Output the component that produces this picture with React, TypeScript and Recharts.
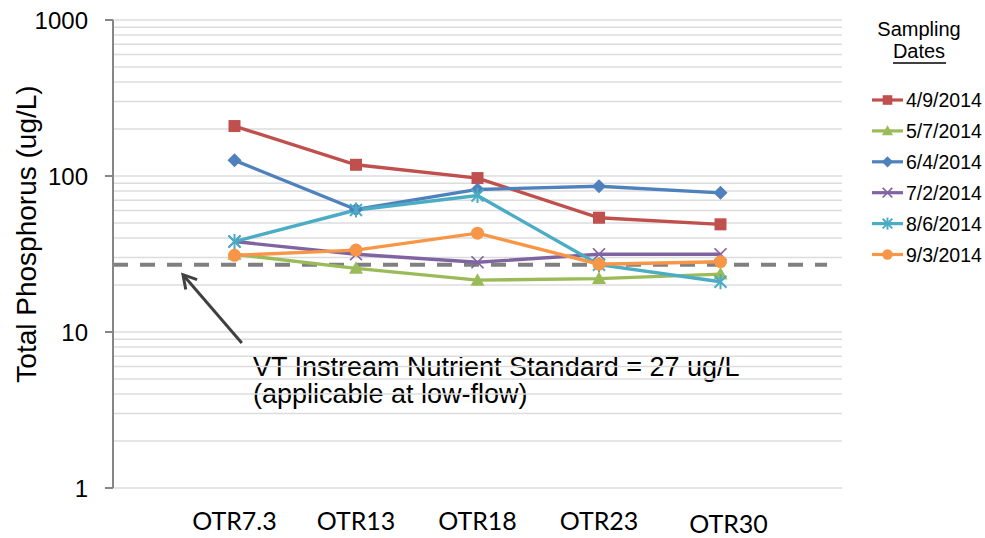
import React from 'react';
import { LineChart, Line, XAxis, YAxis, ReferenceLine, Customized } from 'recharts';

// ---- data ----
const sites = ['OTR7.3', 'OTR13', 'OTR18', 'OTR23', 'OTR30'];
const dates = ['4/9/2014', '5/7/2014', '6/4/2014', '7/2/2014', '8/6/2014', '9/3/2014'];
const tp0409 = [209, 118, 97, 54, 49];
const tp0507 = [31.5, 25.6, 21.5, 22, 23.5];
const tp0604 = [126, 61, 82, 86, 78];
const tp0702 = [38, 31.5, 28, 31.5, 31.5];
const tp0806 = [38, 60.5, 75, 27, 21];
const tp0903 = [31, 33.5, 43, 27.2, 28.2];
const yTicks = [1, 10, 100, 1000];
const gridValues = [
  1, 2, 3, 4, 5, 6, 7, 8, 9, 10, 20, 30, 40, 50, 60, 70, 80, 90,
  100, 200, 300, 400, 500, 600, 700, 800, 900, 1000,
];
const standardValue = 27;
const annotationLines = ['VT Instream Nutrient Standard = 27 ug/L', '(applicable at low-flow)'];
const legendTitle = ['Sampling', 'Dates'];
const yLabel = 'Total Phosphorus (ug/L)';

const seriesValues = [tp0409, tp0507, tp0604, tp0702, tp0806, tp0903];
const colors = ['#C0504D', '#9BBB59', '#4F81BD', '#8064A2', '#4BACC6', '#F79646'];
const shapes = ['square', 'triangle', 'diamond', 'x', 'star', 'circle'];

const data = sites.map((site, i) => {
  const row: any = { x: i + 1, site };
  seriesValues.forEach((vals, s) => {
    row['s' + s] = vals[i];
  });
  return row;
});

// ---- styles ----
const W = 985;
const H = 538;
const FONT = '"Liberation Sans", Arial, sans-serif';
const TICK_FONT = 'Lato, "Open Sans", sans-serif';

function Marker({ shape, cx, cy, color, s = 1 }: any) {
  switch (shape) {
    case 'square':
      return <rect x={cx - 6 * s} y={cy - 6 * s} width={12 * s} height={12 * s} fill={color} />;
    case 'triangle':
      return (
        <polygon
          points={`${cx},${cy - 7 * s} ${cx + 7 * s},${cy + 5.5 * s} ${cx - 7 * s},${cy + 5.5 * s}`}
          fill={color}
        />
      );
    case 'diamond':
      return (
        <polygon
          points={`${cx},${cy - 7 * s} ${cx + 7 * s},${cy} ${cx},${cy + 7 * s} ${cx - 7 * s},${cy}`}
          fill={color}
        />
      );
    case 'x':
      return (
        <g stroke={color} strokeWidth={1.7}>
          <line x1={cx - 6 * s} y1={cy - 6 * s} x2={cx + 6 * s} y2={cy + 6 * s} />
          <line x1={cx - 6 * s} y1={cy + 6 * s} x2={cx + 6 * s} y2={cy - 6 * s} />
        </g>
      );
    case 'star':
      return (
        <g stroke={color} strokeWidth={2}>
          <line x1={cx - 6 * s} y1={cy - 6 * s} x2={cx + 6 * s} y2={cy + 6 * s} />
          <line x1={cx - 6 * s} y1={cy + 6 * s} x2={cx + 6 * s} y2={cy - 6 * s} />
          <line x1={cx} y1={cy - 7.5 * s} x2={cx} y2={cy + 7.5 * s} />
        </g>
      );
    case 'circle':
    default:
      return <circle cx={cx} cy={cy} r={6.5 * s} fill={color} />;
  }
}

const XTick = (props: any) => {
  const { x, payload, index } = props;
  const isLast = payload.value === sites.length;
  const label = sites[payload.value - 1] ?? '';
  return (
    <text
      key={`xt-${index}`}
      x={x + (isLast ? 8 : 0)}
      y={530 + (isLast ? 3 : 0)}
      textAnchor="middle"
      fontFamily={TICK_FONT}
      fontSize={25}
      fill="#000"
    >
      {label}
    </text>
  );
};

const Arrow = (props: any) => {
  const { x1, y1, x2, y2 } = props;
  if ([x1, y1, x2, y2].some((v) => typeof v !== 'number' || isNaN(v))) return null;
  const dx = x1 - x2;
  const dy = y1 - y2;
  const len = Math.sqrt(dx * dx + dy * dy) || 1;
  const ux = dx / len;
  const uy = dy / len;
  const L = 15;
  const a = (30 * Math.PI) / 180;
  const rot = (ang: number) => [ux * Math.cos(ang) - uy * Math.sin(ang), ux * Math.sin(ang) + uy * Math.cos(ang)];
  const [r1x, r1y] = rot(a);
  const [r2x, r2y] = rot(-a);
  return (
    <g stroke="#404040" strokeWidth={3} fill="none" strokeLinecap="butt">
      <line x1={x2} y1={y2} x2={x1} y2={y1} />
      <polyline
        points={`${x1 - r1x * L},${y1 - r1y * L} ${x1},${y1} ${x1 - r2x * L},${y1 - r2y * L}`}
        strokeLinejoin="miter"
      />
    </g>
  );
};

const Overlay = () => {
  const lx = 860;
  const ly = 10;
  return (
    <g>
      <text
        transform={`translate(36, 234) rotate(-90)`}
        textAnchor="middle"
        fontFamily={FONT}
        fontSize={28}
        fill="#000"
      >
        {yLabel}
      </text>
      <text x={253} y={376} fontFamily={FONT} fontSize={27} fill="#000">
        {annotationLines[0]}
      </text>
      <text x={253} y={403} fontFamily={FONT} fontSize={27} fill="#000">
        {annotationLines[1]}
      </text>
      <g>
        <text x={lx + 59} y={ly + 26} textAnchor="middle" fontFamily={FONT} fontSize={20} fill="#000">
          {legendTitle[0]}
        </text>
        <text x={lx + 59} y={ly + 48} textAnchor="middle" fontFamily={FONT} fontSize={20} fill="#000">
          {legendTitle[1]}
        </text>
        <line x1={lx + 33} x2={lx + 86} y1={ly + 53} y2={ly + 53} stroke="#000" strokeWidth={1.5} />
        {dates.map((d, i) => {
          const cy = 100 + i * 30.9;
          return (
            <g key={d}>
              <line x1={872} x2={903} y1={cy} y2={cy} stroke={colors[i]} strokeWidth={3.2} />
              <Marker shape={shapes[i]} cx={887.5} cy={cy} color={colors[i]} s={0.8} />
              <text x={906} y={cy} dy="0.36em" fontFamily={FONT} fontSize={19.5} fill="#000">
                {d}
              </text>
            </g>
          );
        })}
      </g>
    </g>
  );
};

export default function App() {
  return (
    <div style={{ position: 'absolute', left: 0, top: 0, width: W, height: H, background: '#fff' }}>
      <LineChart width={W} height={H} data={data} margin={{ top: 20, right: 143, bottom: 20, left: 53 }}>
        <XAxis
          dataKey="x"
          type="number"
          domain={[0, 6]}
          ticks={[1, 2, 3, 4, 5]}
          axisLine={false}
          tickLine={false}
          height={30}
          tick={<XTick />}
          interval={0}
        />
        <YAxis
          type="number"
          scale="log"
          domain={[1, 1000]}
          ticks={yTicks}
          allowDataOverflow
          width={60}
          axisLine={{ stroke: '#868686', strokeWidth: 2 }}
          tickLine={{ stroke: '#868686', strokeWidth: 2 }}
          tickSize={8}
          tickMargin={17}
          tick={{ fill: '#000', fontSize: 24, fontFamily: FONT }}
          interval={0}
        />
        {gridValues.map((v) => (
          <ReferenceLine key={'g' + v} y={v} stroke="#DCDCDC" strokeWidth={1.5} ifOverflow="extendDomain" />
        ))}
        <ReferenceLine
          segment={[
            { x: 0, y: standardValue },
            { x: 5.877, y: standardValue },
          ]}
          stroke="#808080"
          strokeWidth={4}
          strokeDasharray="15 12"
        />
        <ReferenceLine
          segment={[
            { x: 0.576, y: 23.3 },
            { x: 1.06, y: 8.5 },
          ]}
          shape={(p: any) => <Arrow {...p} />}
        />
        {seriesValues.map((_, s) => (
          <Line
            key={dates[s]}
            dataKey={'s' + s}
            name={dates[s]}
            stroke={colors[s]}
            strokeWidth={3.4}
            isAnimationActive={false}
            dot={(p: any) => (
              <Marker key={`m${s}-${p.index}`} shape={shapes[s]} cx={p.cx} cy={p.cy} color={colors[s]} />
            )}
            activeDot={false}
          />
        ))}
        <Customized component={Overlay} />
      </LineChart>
    </div>
  );
}
